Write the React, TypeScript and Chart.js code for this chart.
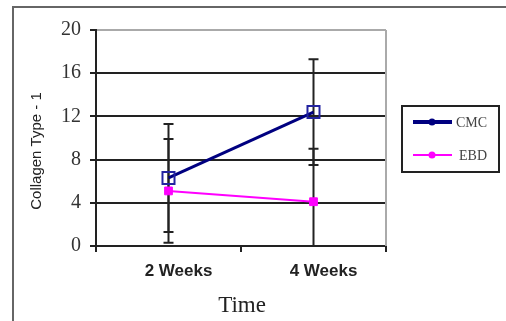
import React, { useEffect, useRef } from "react";
import { Chart, registerables } from "chart.js";

Chart.register(...registerables);

const categories = ["2 Weeks", "4 Weeks"];
const seriesNames = ["CMC", "EBD"];
const cmcValues = [6.3, 12.4];
const cmcErrors = [5.0, 4.9];
const ebdValues = [5.1, 4.1];
const ebdErrors = [4.8, 4.9];
const yMin = 0;
const yMax = 20;
const yStep = 4;
const xTitle = "Time";
const yTitle = "Collagen Type - 1";

const errors = [cmcErrors, ebdErrors];

const decorPlugin = {
  id: "decor",
  beforeDraw(chart: any) {
    const ctx = chart.ctx;
    ctx.save();
    ctx.fillStyle = "#ffffff";
    ctx.fillRect(0, 0, chart.width, chart.height);
    ctx.strokeStyle = "#666";
    ctx.lineWidth = 2;
    ctx.beginPath();
    ctx.moveTo(13, chart.height);
    ctx.lineTo(13, 7);
    ctx.lineTo(chart.width, 7);
    ctx.stroke();
    ctx.restore();
  },
  beforeDatasetsDraw(chart: any) {
    const ctx = chart.ctx;
    const area = chart.chartArea;
    const ys = chart.scales.y;
    ctx.save();
    // right plot border
    ctx.strokeStyle = "#aaa";
    ctx.lineWidth = 2;
    ctx.beginPath();
    ctx.moveTo(area.right, area.top);
    ctx.lineTo(area.right, area.bottom);
    ctx.stroke();
    // error bars
    ctx.beginPath();
    ctx.rect(area.left, area.top - 10, area.right - area.left, area.bottom - area.top + 9);
    ctx.clip();
    ctx.strokeStyle = "#222";
    ctx.lineWidth = 2;
    chart.data.datasets.forEach((ds: any, i: number) => {
      const meta = chart.getDatasetMeta(i);
      ds.data.forEach((v: number, j: number) => {
        const e = errors[i][j];
        const x = meta.data[j].x;
        const yt = ys.getPixelForValue(v + e);
        const yb = ys.getPixelForValue(v - e);
        ctx.beginPath();
        ctx.moveTo(x, yt);
        ctx.lineTo(x, yb);
        ctx.moveTo(x - 5, yt);
        ctx.lineTo(x + 5, yt);
        ctx.moveTo(x - 5, yb);
        ctx.lineTo(x + 5, yb);
        ctx.stroke();
      });
    });
    ctx.restore();
  },
  afterDraw(chart: any) {
    const ctx = chart.ctx;
    const area = chart.chartArea;
    ctx.save();
    // y title
    ctx.fillStyle = "#222";
    ctx.font = '15px "Liberation Sans", Arial, sans-serif';
    ctx.textAlign = "center";
    ctx.textBaseline = "middle";
    ctx.translate(37, 151);
    ctx.rotate(-Math.PI / 2);
    ctx.fillText(yTitle, 0, 0);
    ctx.restore();

    ctx.save();
    ctx.fillStyle = "#222";
    ctx.font = '23px "Liberation Serif", "Times New Roman", serif';
    ctx.textAlign = "center";
    ctx.textBaseline = "middle";
    ctx.fillText(xTitle, (area.left + area.right) / 2 + 1, 306);
    ctx.restore();

    // legend
    ctx.save();
    ctx.strokeStyle = "#222";
    ctx.lineWidth = 2;
    ctx.strokeRect(402, 106, 97, 66);
    const rows = [
      { y: 122, color: "#000080", w: 4, tx: 456 },
      { y: 155, color: "#ff00ff", w: 2, tx: 459 },
    ];
    rows.forEach((r, i) => {
      ctx.strokeStyle = r.color;
      ctx.lineWidth = r.w;
      ctx.beginPath();
      ctx.moveTo(413, r.y);
      ctx.lineTo(452, r.y);
      ctx.stroke();
      ctx.fillStyle = r.color;
      ctx.beginPath();
      ctx.arc(432, r.y, 3.5, 0, Math.PI * 2);
      ctx.fill();
      ctx.fillStyle = "#444";
      ctx.font = '14px "Liberation Serif", "Times New Roman", serif';
      ctx.textAlign = "left";
      ctx.textBaseline = "middle";
      ctx.fillText(seriesNames[i], r.tx, r.y + 1);
    });
    ctx.restore();
  },
};

export default function App() {
  const ref = useRef<HTMLCanvasElement | null>(null);
  useEffect(() => {
    if (!ref.current) return;
    const chart = new Chart(ref.current, {
      type: "line",
      data: {
        labels: categories,
        datasets: [
          {
            label: seriesNames[0],
            data: cmcValues,
            borderColor: "#000080",
            borderWidth: 3,
            pointStyle: "rect",
            pointRadius: 8.5,
            pointBackgroundColor: "rgba(0,0,0,0)",
            pointBorderColor: "#2323a0",
            pointBorderWidth: 2,
            tension: 0,
          },
          {
            label: seriesNames[1],
            data: ebdValues,
            borderColor: "#ff00ff",
            borderWidth: 2,
            pointStyle: "rect",
            pointRadius: 5.5,
            pointBackgroundColor: "#ff00ff",
            pointBorderColor: "#ff00ff",
            pointBorderWidth: 1,
            tension: 0,
          },
        ],
      },
      options: {
        responsive: false,
        animation: false,
        layout: { padding: { left: 0, top: 30, right: 120, bottom: 0 } },
        plugins: {
          legend: { display: false },
          tooltip: { enabled: false },
        },
        scales: {
          x: {
            offset: true,
            grid: {
              offset: true,
              drawOnChartArea: false,
              drawTicks: true,
              tickLength: 6,
              color: "#222",
              lineWidth: 2,
            },
            border: { color: "#222", width: 2 },
            ticks: {
              color: "#222",
              padding: 9,
              labelOffset: 10,
              font: { family: '"Liberation Sans", Arial, sans-serif', size: 17, weight: "bold" },
            },
            afterFit(scale: any) {
              scale.height = 75;
            },
          },
          y: {
            min: yMin,
            max: yMax,
            ticks: {
              stepSize: yStep,
              color: "#333",
              padding: 9,
              font: { family: '"Liberation Serif", "Times New Roman", serif', size: 20 },
            },
            grid: {
              color: (c: any) => (c.tick && c.tick.value === yMax ? "#aaa" : "#222"),
              tickColor: "#222",
              lineWidth: 2,
              tickLength: 6,
            },
            border: { color: "#222", width: 2 },
            afterFit(scale: any) {
              scale.width = 96;
            },
          },
        },
      },
      plugins: [decorPlugin],
    } as any);
    return () => chart.destroy();
  }, []);
  return (
    <div style={{ position: "absolute", left: 0, top: 0, width: 506, height: 321 }}>
      <canvas ref={ref} width={506} height={321} style={{ display: "block" }} />
    </div>
  );
}
